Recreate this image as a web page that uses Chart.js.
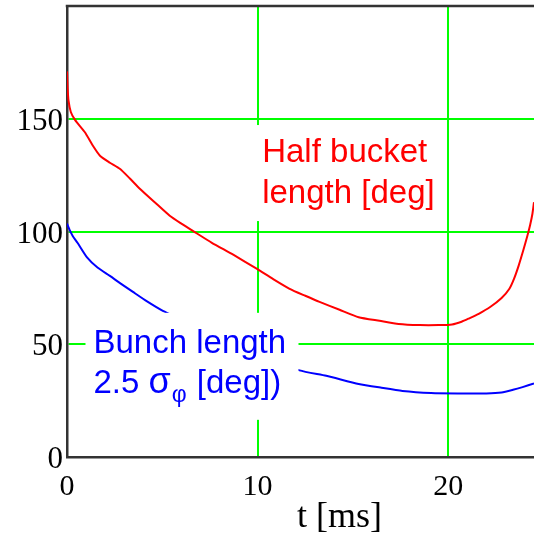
<!DOCTYPE html>
<html>
<head>
<meta charset="utf-8">
<script src="https://cdn.jsdelivr.net/npm/chart.js@4/dist/chart.umd.min.js"></script>
<style>
html,body{margin:0;padding:0;background:#fff;overflow:hidden;}
canvas{display:block;}
</style>
</head>
<body>
<canvas id="c" width="534" height="534"></canvas>
<script>
// ---- data ----
const tBucket = [0, 0.03, 0.08, 0.2, 0.42, 0.94, 1.36, 1.73, 2.25, 2.77, 3.3, 3.82, 4.6, 5.39, 6.0, 6.6, 7.6, 8.72, 9.97, 10.8, 11.68, 12.5, 13.25, 14.3, 15.3, 16.4, 17.4, 18.5, 19.5, 20.2, 20.7, 21.1, 21.6, 22.2, 22.8, 23.2, 23.45, 23.7, 23.95, 24.15, 24.3, 24.42, 24.5];
const halfBucket = [171, 164, 158, 153, 149.5, 144, 138, 133.6, 130.5, 127.8, 123.5, 119, 113, 107, 103.5, 100.3, 95, 89.7, 83.4, 79, 74.6, 71.5, 68.8, 65.3, 62, 60.4, 59, 58.5, 58.5, 58.8, 60, 61.5, 63.5, 66.5, 70.5, 74.5, 79, 85, 92, 98, 103, 108, 113];
const tBunch = [0, 0.15, 0.3, 0.55, 1.05, 1.6, 2.25, 2.8, 3.46, 4.2, 5.03, 6, 7, 8, 9, 10, 11, 12.2, 13.6, 15.3, 16.5, 17.6, 19.1, 20.5, 22.0, 22.8, 23.4, 23.9, 24.5];
const bunchLength = [103.5, 100.5, 98, 95, 88.5, 84, 80.3, 77, 73.2, 69, 64.8, 61, 57, 53.5, 50, 46.5, 43, 38.4, 36, 32.4, 30.7, 29.3, 28.4, 28.2, 28.2, 28.6, 29.8, 31, 32.6];
const xTicks = [0, 10, 20];
const yTicks = [0, 50, 100, 150];
const xRange = [0, 24.5];
const yRange = [0, 200];
const xTitle = 't [ms]';
const bucketLabel = ['Half bucket', 'length [deg]'];
const bunchLabel1 = 'Bunch length';
const bunchLabel2 = ['2.5 σ', 'φ', ' [deg])'];

const RED = '#ff0000', BLUE = '#0000ff', GREEN = '#00ff00', FRAME = '#333333';
const SANS = '"Liberation Sans", Arial, sans-serif';
const SERIF = '"Liberation Serif", "Times New Roman", serif';

const pts = (xs, ys) => xs.map((x, i) => ({x, y: ys[i]}));

const annotations = {
  id: 'annotations',
  afterDatasetsDraw(chart) {
    const {ctx, scales: {x, y}} = chart;
    ctx.save();
    // red label
    ctx.font = '33px ' + SANS;
    let ax = x.getPixelForValue(10.24), ay = y.getPixelForValue(130.8);
    let w = Math.max(...bucketLabel.map(s => ctx.measureText(s).width));
    ctx.fillStyle = '#fff';
    ctx.fillRect(ax - 8, ay - 37, w + 20, 96);
    ctx.fillStyle = RED;
    ctx.textBaseline = 'alphabetic';
    ctx.textAlign = 'left';
    ctx.fillText(bucketLabel[0], ax, ay);
    ctx.fillText(bucketLabel[1], ax, ay + 41);
    // blue label
    ax = x.getPixelForValue(1.39); ay = y.getPixelForValue(46.2);
    ctx.fillStyle = '#fff';
    ctx.fillRect(ax - 8, ay - 40, 213, 107);
    ctx.fillStyle = BLUE;
    ctx.fillText(bunchLabel1, ax, ay);
    let cx = ax;
    const b2 = ay + 40;
    ctx.fillText('2.5 ', cx, b2);
    cx += ctx.measureText('2.5 ').width;
    ctx.font = '36px ' + SANS;
    ctx.fillText('σ', cx, b2);
    cx += ctx.measureText('σ').width + 1;
    ctx.font = '23px ' + SANS;
    ctx.fillText(bunchLabel2[1], cx, b2 + 9);
    cx += ctx.measureText(bunchLabel2[1]).width + 1;
    ctx.font = '33px ' + SANS;
    ctx.fillText(bunchLabel2[2], cx, b2);
    ctx.restore();
  },
  afterDraw(chart) {
    const {ctx, scales: {x}, chartArea: ca} = chart;
    ctx.save();
    ctx.strokeStyle = FRAME;
    ctx.lineWidth = 2.5;
    ctx.beginPath();
    ctx.moveTo(ca.left - 1.25, ca.top);
    ctx.lineTo(ca.right + 2, ca.top);
    ctx.stroke();
    ctx.fillStyle = '#000';
    ctx.font = '36px ' + SERIF;
    ctx.textAlign = 'center';
    ctx.textBaseline = 'alphabetic';
    ctx.fillText(xTitle, x.getPixelForValue(14.3), 527);
    ctx.restore();
  }
};

new Chart(document.getElementById('c'), {
  type: 'scatter',
  data: {
    datasets: [
      {data: pts(tBucket, halfBucket), borderColor: RED, borderWidth: 2, showLine: true, pointRadius: 0, tension: 0.2, fill: false},
      {data: pts(tBunch, bunchLength), borderColor: BLUE, borderWidth: 2, showLine: true, pointRadius: 0, tension: 0.2, fill: false}
    ]
  },
  options: {
    responsive: false,
    animation: false,
    events: [],
    layout: {padding: {top: 6, right: 0, left: 0, bottom: 0}},
    plugins: {legend: {display: false}, tooltip: {enabled: false}},
    scales: {
      x: {
        type: 'linear', min: xRange[0], max: xRange[1],
        afterBuildTicks: s => { s.ticks = xTicks.map(v => ({value: v})); },
        afterFit: s => { s.height = 77; s.paddingLeft = 0; s.paddingRight = 0; },
        ticks: {font: {family: SERIF, size: 30}, color: '#000', padding: 12, maxRotation: 0, includeBounds: false},
        grid: {color: c => c.tick && c.tick.value === 0 ? 'rgba(0,0,0,0)' : GREEN, lineWidth: 2, drawTicks: false},
        border: {color: FRAME, width: 2.5}
      },
      y: {
        type: 'linear', min: yRange[0], max: yRange[1],
        afterBuildTicks: s => { s.ticks = yTicks.map(v => ({value: v})); },
        afterFit: s => { s.width = 67; s.paddingTop = 0; s.paddingBottom = 0; },
        ticks: {font: {family: SERIF, size: 31}, color: '#000', padding: 4, labelOffset: 3, includeBounds: false},
        grid: {color: c => c.tick && c.tick.value === 0 ? 'rgba(0,0,0,0)' : GREEN, lineWidth: 2, drawTicks: false},
        border: {color: FRAME, width: 2.5}
      }
    }
  },
  plugins: [annotations]
});
</script>
</body>
</html>
